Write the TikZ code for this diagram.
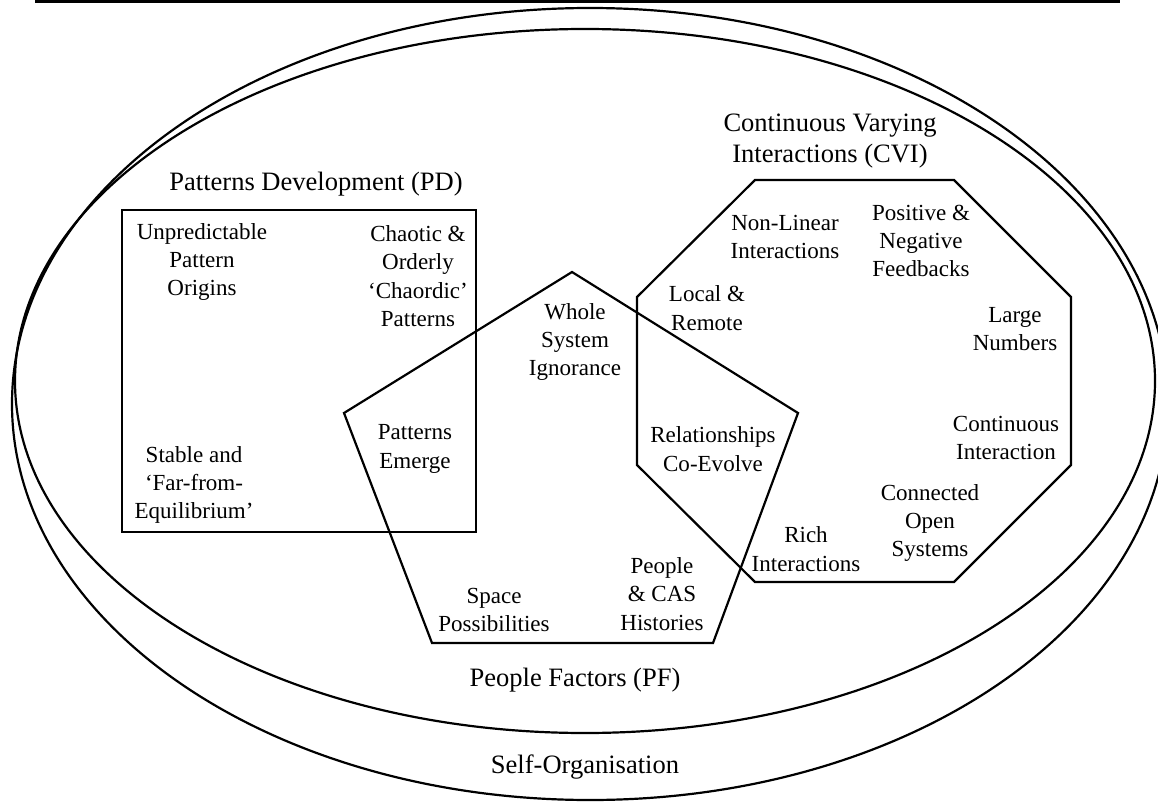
\documentclass[tikz,border=0pt]{standalone}
\usepackage{fontspec}
\setmainfont{Liberation Serif}
\usetikzlibrary{positioning}

\begin{document}
\begin{tikzpicture}[
    % GLOBAL CFG
    font=\fontsize{13.1}{16.1}\selectfont,
    % Styles
    border/.style={% For the ellipses, box and polygons
        draw,
        line width=1.25pt,
        line join=miter,
        },
    item/.style={% For the texts inside the shapes
        align=center,
        inner sep=0pt,
        },
    heading/.style={% For the names of the shapes
        align=center,
        inner sep=0pt,
        font=\fontsize{15.1}{17.5}\selectfont,
        },
    ]

    \useasboundingbox (0,0) rectangle (23.16,16.04);

    % Rule at the top of the page
    \coordinate (ruleL) at (0.7,16.01);
    \coordinate (ruleR) at (22.4,16.01);
    \draw [line width=1.25pt] (ruleL) -- (ruleR);

    % Draw the two ellipses
    \draw [border] (11.8,7.96) ellipse [x radius=11.56, y radius=7.92];
    \draw [border] (11.7,8.42) ellipse [x radius=11.4, y radius=7.04];

    % Draw the box (PD)
    \draw [border] (2.44,11.84) rectangle (9.52,5.4);

    % Draw the pentagon (PF)
    \draw [border] (11.44,10.6) -- (15.96,7.78) -- (14.26,3.18)
        -- (8.64,3.18) -- (6.88,7.78) -- cycle;

    % Draw the octagon (CVI)
    \draw [border] (15.1,12.44) -- (19.08,12.44) -- (21.42,10.1)
        -- (21.42,6.74) -- (19.08,4.4) -- (15.1,4.4)
        -- (12.74,6.74) -- (12.74,10.1) -- cycle;

    % Headings
    \node [heading] (pd) at (6.32,12.36) {Patterns Development (PD)};
    \node [heading] (cvi) at (16.6,13.22) {Continuous Varying\\Interactions (CVI)};
    \node [heading] (pf) at (11.5,2.44) {People Factors (PF)};
    \node [heading] (so) at (11.7,0.7) {Self-Organisation};

    % Texts in the box
    \node [item] (origins) at (4.04,10.8) {Unpredictable\\Pattern\\Origins};
    \node [item] (chaordic) at (8.36,10.52) {Chaotic \&\\Orderly\\‘Chaordic’\\Patterns};
    \node [item] (stable) at (3.88,6.34) {Stable and\\‘Far-from-\\Equilibrium’};
    \node [item] (emerge) at (8.3,7.06) {Patterns\\Emerge};

    % Texts in the pentagon
    \node [item] (whole) at (11.5,9.2) {Whole\\System\\Ignorance};
    \node [item] (space) at (9.88,3.84) {Space\\Possibilities};
    \node [item] (histories) at (13.24,4.16) {People\\\& CAS\\Histories};
    \node [item] (coevolve) at (14.26,7.06) {Relationships\\Co-Evolve};

    % Texts in the octagon
    \node [item] (remote) at (14.14,9.88) {Local \&\\Remote};
    \node [item] (nonlinear) at (15.7,11.3) {Non-Linear\\Interactions};
    \node [item] (feedbacks) at (18.42,11.22) {Positive \&\\Negative\\Feedbacks};
    \node [item] (numbers) at (20.3,9.46) {Large\\Numbers};
    \node [item] (continuous) at (20.12,7.28) {Continuous\\Interaction};
    \node [item] (open) at (18.6,5.58) {Connected\\Open\\Systems};
    \node [item] (rich) at (16.12,5.06) {Rich\\Interactions};

\end{tikzpicture}
\end{document}
